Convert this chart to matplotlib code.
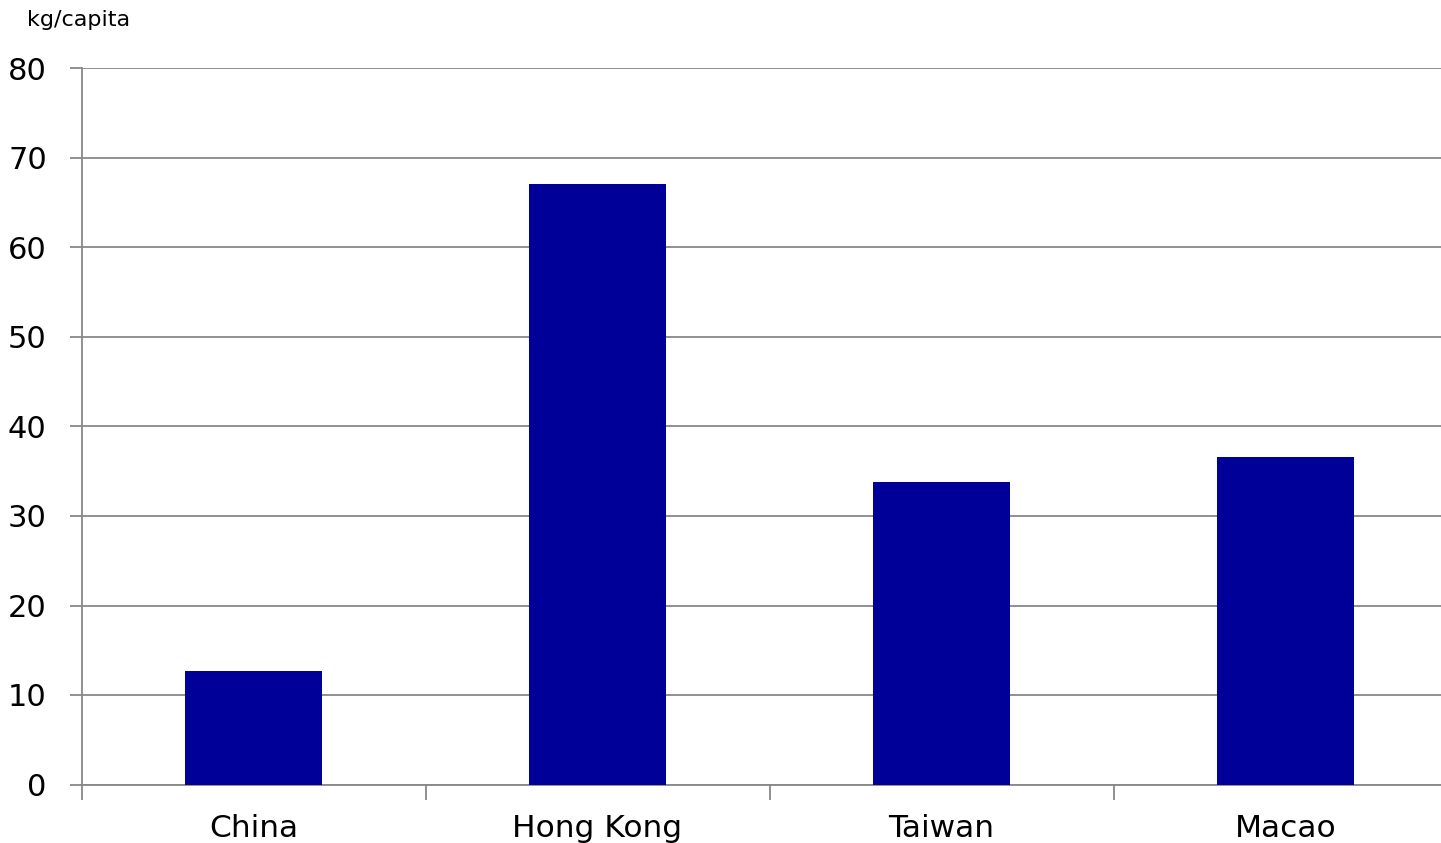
import matplotlib.pyplot as plt

# per-capita figures by region
regions = ["China", "Hong Kong", "Taiwan", "Macao"]
kg_per_capita = [12.7, 67.1, 33.8, 36.6]
y_ticks = [0, 10, 20, 30, 40, 50, 60, 70, 80]

plt.rcParams["font.family"] = ["DejaVu Sans"]

fig = plt.figure(figsize=(14.41, 8.43), dpi=100)
# axes run a little past the right edge of the figure
ax = fig.add_axes([81.5 / 1441, 1 - 784.5 / 843, 1376 / 1441, 716 / 843])

x = list(range(len(regions)))
ax.bar(x, kg_per_capita, width=0.4, color="#000099", zorder=3)

ax.set_xlim(-0.5, len(regions) - 0.5)
ax.set_ylim(0, 80)
ax.set_yticks(y_ticks)
ax.yaxis.grid(True, color="#888888", linewidth=1.3, zorder=0)

# category ticks sit between the bars
ax.set_xticks([i + 0.5 for i in range(-1, len(regions))], minor=False)
ax.set_xticklabels([])
ax.set_xticks(x, minor=True)
ax.set_xticklabels(regions, minor=True, fontsize=22.5)
ax.tick_params(axis="x", which="minor", length=0, pad=21)
ax.tick_params(axis="x", which="major", length=11, width=1.3, color="#888888")
ax.tick_params(axis="y", length=9, width=1.3, color="#888888", pad=16, labelsize=22)

for side in ["top", "right"]:
    ax.spines[side].set_visible(False)
for side in ["left", "bottom"]:
    ax.spines[side].set_color("#888888")
    ax.spines[side].set_linewidth(1.3)

fig.text(27 / 1441, 1 - 20 / 843, "kg/capita", fontsize=16, va="center", ha="left")

fig.savefig("out.png", dpi=100)
